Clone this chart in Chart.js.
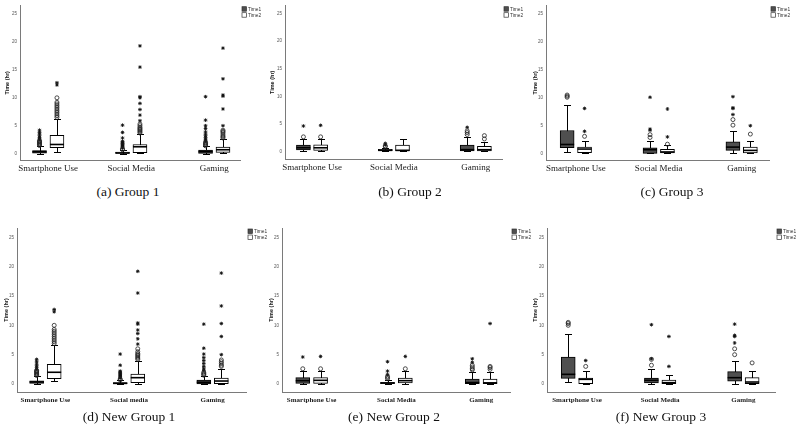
<!DOCTYPE html>
<html><head><meta charset="utf-8">
<script src="https://cdn.jsdelivr.net/npm/chart.js@4"></script>
<style>
html,body{margin:0;padding:0;background:#fff;width:797px;height:427px;overflow:hidden}
canvas{position:absolute}
.cap{position:absolute;font-family:"Liberation Serif","Times New Roman",serif;font-size:13.5px;line-height:14px;color:#111;white-space:nowrap;transform:translateX(-50%)}
</style></head><body>
<div id="root"></div>
<script>
// ---------- DATA ----------
const categoriesTop = ['Smartphone Use', 'Social Media', 'Gaming'];
const categoriesNew1 = ['Smartphone Use', 'Social media', 'Gaming'];
const categoriesNew = ['Smartphone Use', 'Social Media', 'Gaming'];
const seriesNames = ['Time1', 'Time2'];
const yTickValues = [0, 5, 10, 15, 20, 25];
const captions = ['(a) Group 1', '(b) Group 2', '(c) Group 3', '(d) New Group 1', '(e) New Group 2', '(f) New Group 3'];

// box stats per category: [lower whisker, Q1, median, Q3, upper whisker]
// (a) Group 1
const a_T1_box = [[0, 0.1, 0.35, 0.55, 1.3], [0, 0.02, 0.12, 0.28, 0.6], [0, 0.05, 0.35, 0.65, 1.3]];
const a_T2_box = [[0.35, 1.05, 1.64, 3.27, 6.2], [0.05, 0.18, 1.23, 1.64, 3.5], [0.05, 0.23, 0.7, 1.17, 2.6]];
const a_T1_circ = [[1.45, 1.6, 1.75, 1.9, 2.05, 2.2, 2.3], [0.7, 0.85], [1.4, 1.55, 1.7, 1.85, 2.0]];
const a_T1_star = [[2.5, 2.7, 2.9, 3.2, 3.5, 3.8, 4.2], [1.0, 1.15, 1.3, 1.45, 1.6, 1.75, 1.9, 2.05, 2.2, 2.8, 3.8, 5.1], [2.2, 2.4, 2.6, 2.9, 3.2, 3.5, 3.9, 4.5, 5.0, 6.0, 10.2]];
const a_T2_circ = [[6.5, 6.8, 7.1, 7.4, 7.7, 8.0, 8.3, 8.6, 8.9, 9.2, 10.0], [3.7, 3.9, 4.1, 4.3, 4.5, 4.7, 5.0, 5.3], [2.8, 3.0, 3.2, 3.5, 3.8, 4.0, 4.2]];
const a_T2_star = [[12.3, 12.7], [5.9, 6.9, 7.9, 9.0, 10.0, 10.2, 15.5, 19.3], [5.0, 8.0, 10.3, 10.5, 13.4, 18.9]];
// (b) Group 2
const b_T1_box = [[0.1, 0.3, 0.71, 1.19, 2.26], [0.05, 0.12, 0.25, 0.42, 0.7], [0.05, 0.12, 0.36, 1.19, 2.68]];
const b_T2_box = [[0.1, 0.24, 0.7, 1.25, 2.26], [0.05, 0.12, 0.24, 1.19, 2.26], [0.05, 0.12, 0.35, 0.95, 1.67]];
const b_T1_circ = [[2.68], [0.9, 1.05], [3.1, 3.45, 3.75]];
const b_T1_star = [[4.64], [1.2, 1.5], [4.4]];
const b_T2_circ = [[2.68], [], [2.3, 2.9]];
const b_T2_star = [[4.76], [], []];
// (c) Group 3
const c_T1_box = [[0.35, 1.05, 1.64, 4.15, 8.64], [0.06, 0.06, 0.7, 1.05, 2.22], [0.06, 0.58, 1.17, 2.1, 4.1]];
const c_T2_box = [[0.1, 0.18, 0.82, 1.17, 2.34], [0.06, 0.12, 0.3, 0.76, 1.46], [0.06, 0.12, 0.58, 1.17, 2.2]];
const c_T1_circ = [[10.1, 10.3, 10.5], [2.9, 3.4], [5.1, 6.1]];
const c_T1_star = [[], [4.2, 4.4, 10.1], [7.0, 8.1, 8.2, 10.2]];
const c_T2_circ = [[3.1], [1.7], [3.5]];
const c_T2_star = [[4.0, 8.1], [3.0, 8.0], [5.0]];
// (d) New Group 1
const d_T1_box = [[0, 0.1, 0.35, 0.55, 1.3], [0, 0.02, 0.12, 0.25, 0.6], [0, 0.02, 0.3, 0.68, 1.36]];
const d_T2_box = [[0.5, 0.9, 2.0, 3.35, 6.6], [0.05, 0.23, 1.08, 1.7, 4.0], [0.05, 0.06, 0.51, 1.02, 2.5]];
const d_T1_circ = [[1.45, 1.6, 1.75, 1.9, 2.05, 2.2, 2.3], [0.7, 0.85], [1.5, 1.65, 1.8, 2.0]];
const d_T1_star = [[2.5, 2.8, 3.1, 3.4, 3.8, 4.2], [1.0, 1.15, 1.3, 1.45, 1.6, 1.75, 1.9, 2.05, 2.2, 3.2, 5.1], [2.3, 2.6, 3.0, 3.5, 4.0, 4.5, 5.1, 6.1, 10.2]];
const d_T2_circ = [[6.9, 7.2, 7.5, 7.8, 8.1, 8.4, 8.7, 9.0, 9.3, 10.0], [4.2, 4.4, 4.6, 4.8, 5.0, 5.2, 5.5, 6.0], [3.0, 3.2, 3.5, 3.8, 4.1]];
const d_T2_star = [[12.3, 12.7], [6.8, 7.7, 8.6, 9.2, 10.2, 10.4, 15.5, 19.2], [5.0, 8.1, 10.3, 13.3, 18.9]];
// (e) New Group 2
const e_T1_box = [[0.05, 0.11, 0.57, 1.08, 2.2], [0.03, 0.06, 0.17, 0.28, 0.68], [0.03, 0.06, 0.25, 0.85, 2.0]];
const e_T2_box = [[0.05, 0.11, 0.63, 1.08, 2.2], [0.05, 0.17, 0.57, 1.02, 2.2], [0.03, 0.06, 0.2, 0.85, 2.1]];
const e_T1_circ = [[2.6], [0.9, 1.1, 1.3], [2.4, 2.6, 2.9, 3.2]];
const e_T1_star = [[4.6], [1.6, 2.2, 3.8], [3.7, 4.3]];
const e_T2_circ = [[2.6], [2.6], [2.5, 2.8, 3.0]];
const e_T2_star = [[4.7], [4.7], [10.3]];
// (f) New Group 3
const f_T1_box = [[0.4, 0.97, 1.65, 4.6, 8.52], [0.06, 0.17, 0.63, 1.02, 2.5], [0.06, 0.5, 1.08, 2.1, 4.0]];
const f_T2_box = [[0.06, 0.06, 0.8, 1.02, 2.16], [0.06, 0.06, 0.23, 0.68, 1.53], [0.06, 0.06, 0.34, 1.08, 2.2]];
const f_T1_circ = [[10.0, 10.3, 10.5], [3.2, 4.2], [5.0, 6.0]];
const f_T1_star = [[], [4.3, 10.1], [7.0, 8.1, 8.3, 10.2]];
const f_T2_circ = [[3.0], [], [3.6]];
const f_T2_star = [[4.0], [3.0, 8.1], []];

// ---------- LAYOUT / STYLE (not data) ----------
const FILL1 = '#4f4f4f', FILL2 = '#ffffff', AXIS = '#7a7a7a';
const panelLayout = [
  {left: 0,   top: 0,   w: 268, h: 180, yW: 20, padR: 28, padT: 3,  xH: 20, tPad: 4, xmin: -0.34, xmax: 2.31, ymin: -1.14, ymax: 26.5, bold: false, capX: 128, capY: 185},
  {left: 265, top: 0,   w: 268, h: 180, yW: 20, padR: 31, padT: 3,  xH: 21, tPad: 4, xmin: -0.33, xmax: 2.32, ymin: -1.33, ymax: 26.4, bold: false, capX: 410, capY: 185},
  {left: 530, top: 0,   w: 267, h: 180, yW: 16, padR: 28, padT: 3,  xH: 20, tPad: 2, xmin: -0.36, xmax: 2.33, ymin: -1.14, ymax: 26.5, bold: false, capX: 672, capY: 185},
  {left: 0,   top: 210, w: 270, h: 200, yW: 17, padR: 24, padT: 18, xH: 18, tPad: 3, xmin: -0.34, xmax: 2.40, ymin: -1.36, ymax: 26.58, bold: true, capX: 129, capY: 410},
  {left: 265, top: 210, w: 270, h: 200, yW: 17, padR: 25, padT: 18, xH: 18, tPad: 3, xmin: -0.35, xmax: 2.34, ymin: -1.36, ymax: 26.58, bold: true, capX: 394, capY: 410},
  {left: 530, top: 210, w: 267, h: 200, yW: 17, padR: 22, padT: 18, xH: 18, tPad: 2, xmin: -0.36, xmax: 2.38, ymin: -1.36, ymax: 26.58, bold: true, capX: 661, capY: 410}
];
const OFFSET = 0.105;

const panels = [
  {cats: categoriesTop,  box: [a_T1_box, a_T2_box], circ: [a_T1_circ, a_T2_circ], star: [a_T1_star, a_T2_star]},
  {cats: categoriesTop,  box: [b_T1_box, b_T2_box], circ: [b_T1_circ, b_T2_circ], star: [b_T1_star, b_T2_star]},
  {cats: categoriesTop,  box: [c_T1_box, c_T2_box], circ: [c_T1_circ, c_T2_circ], star: [c_T1_star, c_T2_star]},
  {cats: categoriesNew1, box: [d_T1_box, d_T2_box], circ: [d_T1_circ, d_T2_circ], star: [d_T1_star, d_T2_star]},
  {cats: categoriesNew,  box: [e_T1_box, e_T2_box], circ: [e_T1_circ, e_T2_circ], star: [e_T1_star, e_T2_star]},
  {cats: categoriesNew,  box: [f_T1_box, f_T2_box], circ: [f_T1_circ, f_T2_circ], star: [f_T1_star, f_T2_star]}
];

// plugin: whiskers, medians, legend drawn from dataset stats through the y scale
const boxPlugin = {
  id: 'boxParts',
  beforeDatasetsDraw(chart) {
    const ctx = chart.ctx, ys = chart.scales.y;
    chart.data.datasets.forEach((ds, di) => {
      if (!ds.stats) return;
      chart.getDatasetMeta(di).data.forEach((el, i) => {
        const s = ds.stats[i];
        const x = Math.round(el.x) + 0.5, cw = el.width * 0.25;
        const yl = Math.round(ys.getPixelForValue(s[0])) + 0.5;
        const yh = Math.round(ys.getPixelForValue(s[4])) + 0.5;
        ctx.save();
        ctx.strokeStyle = '#000'; ctx.lineWidth = 1;
        ctx.beginPath();
        ctx.moveTo(x, yl); ctx.lineTo(x, yh);
        ctx.moveTo(x - cw, yl); ctx.lineTo(x + cw, yl);
        ctx.moveTo(x - cw, yh); ctx.lineTo(x + cw, yh);
        ctx.stroke();
        ctx.restore();
      });
    });
  },
  afterDatasetsDraw(chart) {
    const ctx = chart.ctx, ys = chart.scales.y;
    chart.data.datasets.forEach((ds, di) => {
      if (!ds.stats) return;
      chart.getDatasetMeta(di).data.forEach((el, i) => {
        const s = ds.stats[i];
        const ym = ys.getPixelForValue(s[2]);
        ctx.save();
        ctx.strokeStyle = '#000'; ctx.lineWidth = 1.6;
        ctx.beginPath();
        ctx.moveTo(el.x - el.width / 2, ym); ctx.lineTo(el.x + el.width / 2, ym);
        ctx.stroke();
        ctx.restore();
      });
    });
  },
  afterDraw(chart) {
    const ctx = chart.ctx, ca = chart.chartArea;
    const boxes = chart.data.datasets.filter(d => d.stats);
    ctx.save();
    boxes.forEach((ds, k) => {
      const x = ca.right + 2, y = ca.top + 1 + k * 6;
      ctx.fillStyle = ds.backgroundColor; ctx.strokeStyle = '#333'; ctx.lineWidth = 0.7;
      ctx.fillRect(x, y, 4.5, 4.5); ctx.strokeRect(x, y, 4.5, 4.5);
      ctx.fillStyle = '#333';
      ctx.font = '4.8px "Liberation Sans", Arial, sans-serif';
      ctx.textBaseline = 'middle';
      ctx.fillText(ds.label, x + 6, y + 2.5);
    });
    ctx.restore();
  }
};

const root = document.getElementById('root');
panels.forEach((p, pi) => {
  const L = panelLayout[pi];
  const cv = document.createElement('canvas');
  cv.width = L.w; cv.height = L.h;
  cv.style.left = L.left + 'px'; cv.style.top = L.top + 'px';
  cv.style.width = L.w + 'px'; cv.style.height = L.h + 'px';
  root.appendChild(cv);
  const cap = document.createElement('div');
  cap.className = 'cap'; cap.textContent = captions[pi];
  cap.style.left = L.capX + 'px'; cap.style.top = L.capY + 'px';
  root.appendChild(cap);

  const datasets = [];
  [0, 1].forEach(s => {
    datasets.push({
      type: 'bar', label: seriesNames[s],
      data: p.box[s].map((b, i) => ({x: i + (s === 0 ? -OFFSET : OFFSET), y: [b[1], b[3]]})),
      stats: p.box[s],
      backgroundColor: s === 0 ? FILL1 : FILL2,
      borderColor: '#000', borderWidth: 1, borderSkipped: false,
      grouped: false, barThickness: 14, maxBarThickness: 14, order: 2
    });
  });
  [0, 1].forEach(s => {
    const off = s === 0 ? -OFFSET : OFFSET;
    const circPts = [], starPts = [];
    p.circ[s].forEach((arr, i) => arr.forEach(v => circPts.push({x: i + off, y: v})));
    p.star[s].forEach((arr, i) => arr.forEach(v => starPts.push({x: i + off, y: v})));
    datasets.push({type: 'scatter', label: seriesNames[s] + ' outlier', data: circPts,
      pointStyle: 'circle', pointRadius: 2, pointBorderWidth: 0.8,
      pointBorderColor: '#222', pointBackgroundColor: 'rgba(255,255,255,0)', order: 1});
    datasets.push({type: 'scatter', label: seriesNames[s] + ' extreme', data: starPts,
      pointStyle: 'star', pointRadius: 1.8, pointBorderWidth: 0.9,
      pointBorderColor: '#111', pointBackgroundColor: '#111', order: 1});
  });

  new Chart(cv, {
    type: 'bar',
    data: {datasets},
    plugins: [boxPlugin],
    options: {
      responsive: false, animation: false, devicePixelRatio: 1,
      layout: {padding: {top: L.padT, right: L.padR, left: 0, bottom: 0}},
      plugins: {legend: {display: false}, tooltip: {enabled: false}},
      scales: {
        x: {
          type: 'linear', min: L.xmin, max: L.xmax, offset: false,
          grid: {display: false, drawTicks: false, offset: false},
          border: {display: true, color: AXIS, width: 1},
          afterBuildTicks: sc => { sc.ticks = p.cats.map((c, i) => ({value: i})); },
          afterFit: sc => { sc.height = L.xH; },
          ticks: {
            autoSkip: false, maxRotation: 0, padding: L.bold ? 4 : 3,
            color: '#222',
            font: {family: '"Liberation Serif", "Times New Roman", serif', size: L.bold ? 7 : 9, weight: L.bold ? 'bold' : 'normal'},
            callback: v => p.cats[v]
          }
        },
        y: {
          type: 'linear', min: L.ymin, max: L.ymax,
          grid: {display: false, drawTicks: false},
          border: {display: true, color: AXIS, width: 1},
          afterBuildTicks: sc => { sc.ticks = yTickValues.map(v => ({value: v})); },
          afterFit: sc => { sc.width = L.yW; },
          ticks: {color: '#555', padding: 3, font: {family: '"Liberation Sans", Arial, sans-serif', size: 4.5}},
          title: {display: true, text: 'Time (hr)', color: '#111', padding: {top: L.tPad, bottom: 0},
            font: {family: '"Liberation Sans", Arial, sans-serif', size: 5.5, weight: 'bold'}}
        }
      }
    }
  });
});
</script>
</body></html>
